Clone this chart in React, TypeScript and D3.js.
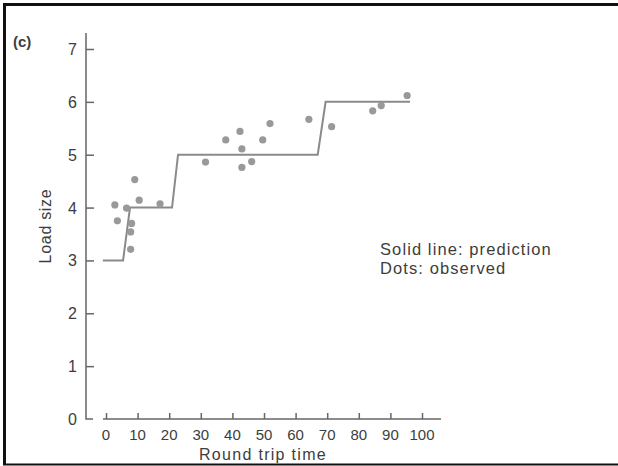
import { useRef, useEffect } from "react";
import * as d3 from "d3";

// observed points (round trip time, load size)
const obsX = [2.8, 3.6, 6.5, 8.1, 7.8, 7.8, 9.1, 10.5, 17.1, 31.5, 37.9, 42.4, 43.0, 43.0, 46.1, 49.6, 51.9, 64.2, 71.4, 84.4, 87.1, 95.3];
const obsY = [4.05, 3.75, 3.99, 3.7, 3.54, 3.21, 4.53, 4.14, 4.07, 4.86, 5.28, 5.44, 5.11, 4.76, 4.87, 5.28, 5.59, 5.67, 5.53, 5.83, 5.93, 6.12];

// predicted step line
const predX = [-1, 5.4, 7.6, 20.9, 22.8, 67.0, 69.5, 96.2];
const predY = [3, 3, 4, 4, 5, 5, 6, 6];

const xTicks = [0, 10, 20, 30, 40, 50, 60, 70, 80, 90, 100];
const yTicks = [0, 1, 2, 3, 4, 5, 6, 7];

const W = 618;
const H = 466;
const font = "Liberation Sans, Arial, sans-serif";
const textColor = "#3d3d3d";

function App() {
  const svgRef = useRef<SVGSVGElement>(null);

  useEffect(() => {
    const svg = d3.select(svgRef.current);
    svg.selectAll("*").remove();

    const x = d3.scaleLinear().domain([0, 100]).range([106, 422]);
    const y = d3.scaleLinear().domain([0, 7]).range([419, 49]);

    // frame
    svg.append("rect").attr("x", 0).attr("y", 0).attr("width", W).attr("height", H).attr("fill", "#fff");
    svg.append("path")
      .attr("d", `M4.5,${H - 2} L4.5,4.5 L${W},4.5`)
      .attr("fill", "none").attr("stroke", "#111").attr("stroke-width", 3);
    svg.append("line")
      .attr("x1", 3).attr("x2", W).attr("y1", H - 1.5).attr("y2", H - 1.5)
      .attr("stroke", "#111").attr("stroke-width", 2);

    // panel label
    svg.append("text").attr("x", 13).attr("y", 47)
      .attr("font-family", font).attr("font-size", 15).attr("font-weight", "bold")
      .attr("fill", textColor).text("(c)");

    // y axis
    const yAxis = d3.axisRight(y).tickValues(yTicks).tickSize(8).tickFormat(() => "");
    const gy = svg.append("g").attr("transform", "translate(86,0)").call(yAxis);
    gy.select(".domain").attr("d", `M0,33V${y(0)}H7`);
    gy.selectAll("line, path").attr("stroke", "#666").attr("stroke-width", 1.5);
    gy.selectAll(".tick line").filter((d) => d === 0).remove();
    svg.selectAll(".ylab").data(yTicks).join("text")
      .attr("class", "ylab")
      .attr("x", 77).attr("y", (d) => y(d) + 6)
      .attr("text-anchor", "end")
      .attr("font-family", font).attr("font-size", 16).attr("fill", textColor)
      .text((d) => d);

    // x axis
    const xAxis = d3.axisTop(x).tickValues(xTicks).tickSize(6).tickFormat(() => "");
    const gx = svg.append("g").attr("transform", `translate(0,${y(0)})`).call(xAxis);
    gx.select(".domain").attr("d", `M103,0H441`);
    gx.selectAll("line, path").attr("stroke", "#666").attr("stroke-width", 1.5);
    svg.selectAll(".xlab").data(xTicks).join("text")
      .attr("class", "xlab")
      .attr("x", (d) => x(d)).attr("y", 440)
      .attr("text-anchor", "middle")
      .attr("font-family", font).attr("font-size", 15).attr("fill", textColor)
      .text((d) => d);

    svg.append("text").attr("x", 263).attr("y", 460).attr("text-anchor", "middle")
      .attr("font-family", font).attr("font-size", 16).attr("letter-spacing", 1.3)
      .attr("fill", textColor)
      .text("Round trip time");
    svg.append("text")
      .attr("transform", "translate(51,226) rotate(-90)")
      .attr("text-anchor", "middle")
      .attr("font-family", font).attr("font-size", 16).attr("letter-spacing", 0.7)
      .attr("fill", textColor)
      .text("Load size");

    // prediction line
    const line = d3.line<number>().x((d) => x(d)).y((_, i) => y(predY[i]));
    svg.append("path").datum(predX).attr("d", line)
      .attr("fill", "none").attr("stroke", "#8a8a8a").attr("stroke-width", 2);

    // observed dots
    svg.selectAll(".dot").data(obsX).join("circle")
      .attr("class", "dot")
      .attr("cx", (d) => x(d)).attr("cy", (_, i) => y(obsY[i]))
      .attr("r", 3.6).attr("fill", "#999");

    // legend
    const legend = ["Solid line: prediction", "Dots: observed"];
    svg.selectAll(".leg").data(legend).join("text")
      .attr("class", "leg")
      .attr("x", 380).attr("y", (_, i) => 255 + i * 19)
      .attr("font-family", font).attr("font-size", 16.5).attr("letter-spacing", 1.1)
      .attr("fill", textColor)
      .text((d) => d);
  }, []);

  return (
    <svg ref={svgRef} width={W} height={H} style={{ position: "absolute", left: 0, top: 0 }} />
  );
}

export default App;
